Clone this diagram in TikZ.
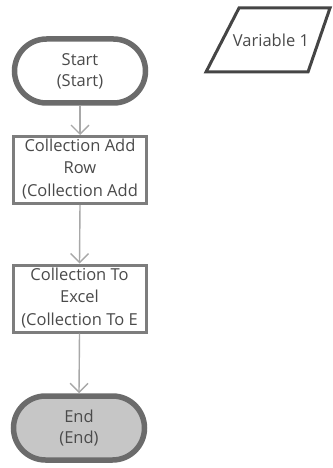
\documentclass[tikz,border=0pt]{standalone}
\usepackage{fontspec}
\setmainfont{Open Sans}
\usetikzlibrary{arrows.meta}
\definecolor{termborder}{HTML}{6B6B6B}
\definecolor{boxborder}{HTML}{7D7D7D}
\definecolor{arrowcol}{HTML}{A8A8A8}
\definecolor{txtcol}{HTML}{4A4A4A}
\definecolor{endfill}{HTML}{C6C6C6}
\definecolor{iocol}{HTML}{454545}
\tikzset{
  terminal/.style={draw=termborder, line width=5.5pt, rectangle, rounded corners=32pt,
    minimum width=131pt, minimum height=64pt, inner sep=0pt,
    align=center, text=txtcol, font=\fontsize{16.5}{21}\selectfont},
  stepbox/.style={draw=boxborder, line width=3pt, rectangle,
    minimum width=133pt, minimum height=67pt, inner sep=0pt},
  boxtext/.style={align=center, text=txtcol, font=\fontsize{16.5}{22.5}\selectfont, inner sep=0pt},
  flow/.style={draw=arrowcol, line width=1.4pt, -{Straight Barb[length=9pt,width=18pt,line width=1.4pt]}},
}
\begin{document}
\begin{tikzpicture}[x=1pt,y=-1pt]
\useasboundingbox (0,0) rectangle (332,468);
\node[terminal] (start) at (80,71) {Start\\(Start)};
\node[stepbox] (add) at (80,170) {};
\node[boxtext] (addtxt) at (80,169) {Collection Add\\Row\\(Collection Add};
\node[stepbox] (excel) at (79.5,298.5) {};
\node[boxtext] (exceltxt) at (79.5,298) {Collection To\\Excel\\(Collection To E};
\node[terminal, fill=endfill] (end) at (79,428) {End\\(End)};
\draw[flow] (start.south) -- (add.north);
\draw[flow] (add.south) -- (excel.north);
\draw[flow] (excel.south) -- (end.north);
\coordinate (p1) at (206,72);
\coordinate (p2) at (308,72);
\coordinate (p3) at (330,8);
\coordinate (p4) at (239,8);
\draw[iocol, line width=3pt, line join=miter] (p1) -- (p2) -- (p3) -- (p4) -- cycle;
\node[text=txtcol, font=\fontsize{16.5}{20}\selectfont] (var) at (271,40) {Variable 1};
\end{tikzpicture}
\end{document}
